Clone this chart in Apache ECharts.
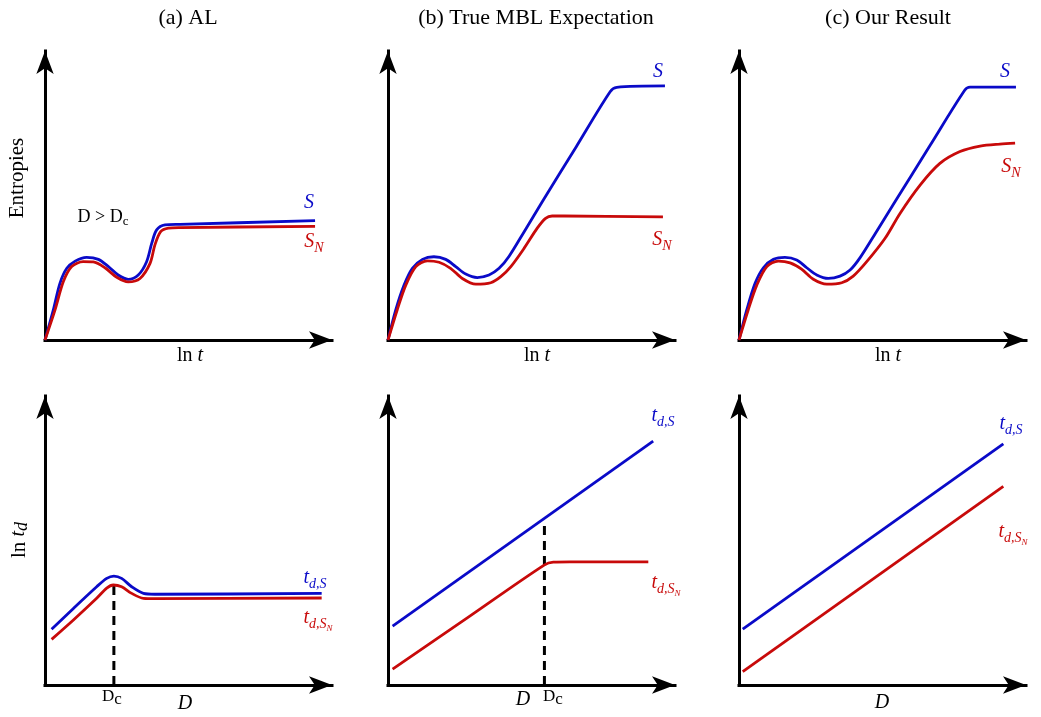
<!DOCTYPE html>
<html>
<head>
<meta charset="utf-8">
<title>AL vs MBL entropies</title>
<script src="https://cdn.jsdelivr.net/npm/echarts@6/dist/echarts.min.js"></script>
<style>
  html, body { margin: 0; padding: 0; background: #fff; }
  #chart { width: 1041px; height: 717px; }
</style>
</head>
<body>
<div id="chart"></div>
<script>
// schematic units: every panel runs 0..100 on both axes
const panelTitles = ['(a) AL', '(b) True MBL Expectation', '(c) Our Result'];

// top row: entropies vs ln t
const alS = [[0, 0], [2.9, 10.4], [5.2, 19.6], [7.6, 24.8], [10.5, 27.3], [14.5, 28.6], [18.6, 27.9], [22.1, 25.4], [25.5, 22.5], [29.0, 21.0], [32.5, 22.5], [35.4, 27.1], [37.2, 33.5], [38.9, 38.1], [41.8, 39.8], [47.0, 40.0], [94.1, 41.3]];
const alSN = [[0, 0], [3.5, 10.4], [6.4, 20.2], [9.3, 25.4], [13.3, 27.1], [16.8, 27.0], [20.9, 25.0], [25.0, 21.7], [29.0, 20.1], [33.1, 21.3], [36.6, 26.5], [38.3, 32.9], [40.3, 37.5], [43.0, 38.7], [47.0, 38.9], [94.1, 39.3]];

const mblS = [[0, 0], [2.7, 10.4], [5.6, 19.0], [8.5, 24.8], [12.0, 27.9], [16.0, 28.8], [20.1, 27.9], [23.6, 25.4], [27.1, 22.8], [31.1, 21.6], [35.2, 22.5], [38.7, 24.8], [42.2, 29.0], [47.4, 37.4], [53.8, 47.9], [65.6, 66.9], [77.4, 85.9], [79.7, 87.4], [96.5, 87.9]];
const mblSN = [[0, 0], [3.2, 10.4], [6.2, 19.0], [9.7, 25.4], [13.7, 27.4], [17.8, 26.9], [21.8, 24.8], [25.9, 21.3], [30.6, 19.3], [35.8, 19.8], [39.3, 21.9], [42.8, 25.4], [47.4, 31.7], [52.0, 38.7], [54.9, 42.1], [57.2, 42.9], [61.3, 42.9], [95.8, 42.6]];

const ourS = [[0, 0], [2.7, 10.4], [5.6, 19.6], [8.5, 25.0], [12.0, 27.9], [16.0, 28.6], [20.1, 27.7], [23.6, 25.0], [27.1, 22.5], [31.1, 21.3], [35.2, 22.1], [38.7, 24.2], [42.2, 28.5], [47.4, 36.7], [54.4, 47.9], [66.5, 67.2], [78.7, 86.5], [80.5, 87.5], [96.5, 87.5]];
const ourSN = [[0, 0], [3.2, 10.4], [6.2, 19.0], [9.7, 25.4], [13.7, 27.3], [17.8, 26.7], [21.8, 24.5], [25.9, 21.0], [30.6, 19.3], [35.8, 19.8], [39.8, 22.1], [44.5, 27.1], [50.9, 35.2], [56.1, 43.8], [63.1, 53.6], [70.0, 61.1], [77.0, 65.2], [84.0, 67.1], [90.9, 67.8], [96.2, 68.1]];

// bottom row: ln t_d vs D
const alTdS = [[2.3, 19.3], [9.9, 26.5], [18.0, 34.0], [21.5, 36.9], [24.0, 37.7], [26.7, 36.9], [30.2, 34.0], [34.3, 31.7], [38.3, 31.4], [96.4, 31.7]];
const alTdSN = [[2.3, 15.8], [9.9, 22.5], [18.0, 30.0], [21.5, 33.5], [23.8, 34.6], [26.7, 34.0], [30.2, 31.7], [34.3, 30.0], [38.3, 29.9], [96.4, 30.1]];
const alDc = [[24.0, 0], [24.0, 34.6]];

const mblTdS = [[1.6, 20.4], [92.4, 84.4]];
const mblTdSN = [[1.6, 5.5], [28.0, 23.5], [54.4, 41.5], [57.6, 42.5], [63.4, 42.6], [90.7, 42.6]];
const mblDc = [[54.5, 0], [54.5, 55.0]];

const ourTdS = [[1.3, 19.3], [92.1, 83.4]];
const ourTdSN = [[1.3, 4.6], [92.1, 68.7]];

const BLUE = '#0a0ac8';
const RED = '#c80a0a';
const SERIF = '"Liberation Serif", "DejaVu Serif", serif';

const gridBoxes = [
  { left: 45, top: 51 }, { left: 388, top: 51 }, { left: 739, top: 51 },
  { left: 45, top: 396 }, { left: 388, top: 396 }, { left: 739, top: 396 }
];

const axisBase = {
  type: 'value',
  min: 0,
  max: 100,
  axisLine: {
    show: true,
    onZero: false,
    symbol: ['none', 'arrow'],
    symbolSize: [13, 23],
    lineStyle: { color: '#000', width: 3, cap: 'square' }
  },
  axisTick: { show: false },
  axisLabel: { show: false },
  splitLine: { show: false }
};

const line = (idx, data, color, smooth, dashed) => ({
  type: 'line',
  xAxisIndex: idx,
  yAxisIndex: idx,
  data: data,
  showSymbol: false,
  smooth: smooth,
  silent: true,
  lineStyle: dashed
    ? { color: '#000', width: 3, type: [9, 6] }
    : { color: color, width: 2.8 }
});

const rich = {
  t: { fontFamily: SERIF, fontSize: 22 },
  r: { fontFamily: SERIF, fontSize: 20 },
  e: { fontFamily: SERIF, fontSize: 21 },
  i: { fontFamily: SERIF, fontSize: 20, fontStyle: 'italic' },
  sub: { fontFamily: SERIF, fontSize: 14, fontStyle: 'italic', padding: [12, 0, 0, 0] },
  subsub: { fontFamily: SERIF, fontSize: 9, fontStyle: 'italic', padding: [22, 0, 0, 0] },
  dsub: { fontFamily: SERIF, fontSize: 18, fontStyle: 'italic', padding: [6, 0, 0, 0] },
  rm: { fontFamily: SERIF, fontSize: 18 },
  rmSub: { fontFamily: SERIF, fontSize: 13, padding: [10, 0, 0, 0] },
  dc: { fontFamily: SERIF, fontSize: 17 },
  dcC: { fontFamily: SERIF, fontSize: 17, padding: [5, 0, 0, 0] }
};

const label = (x, y, text, fill, rotation) => ({
  type: 'text',
  x: x,
  y: y,
  rotation: rotation || 0,
  silent: true,
  style: {
    text: text,
    rich: rich,
    fill: fill || '#000',
    align: 'center',
    verticalAlign: 'middle',
    font: '20px ' + SERIF
  }
});

const chart = echarts.init(document.getElementById('chart'), null, { renderer: 'canvas' });

chart.setOption({
  animation: false,
  backgroundColor: '#fff',
  grid: gridBoxes.map(g => ({ left: g.left, top: g.top, width: 287, height: 289 })),
  xAxis: gridBoxes.map((g, i) => Object.assign({ gridIndex: i }, axisBase)),
  yAxis: gridBoxes.map((g, i) => Object.assign({ gridIndex: i }, axisBase)),
  series: [
    line(0, alS, BLUE, 0.3),
    line(0, alSN, RED, 0.3),
    line(1, mblS, BLUE, 0.3),
    line(1, mblSN, RED, 0.3),
    line(2, ourS, BLUE, 0.3),
    line(2, ourSN, RED, 0.3),
    line(3, alDc, '#000', false, true),
    line(3, alTdS, BLUE, 0.3),
    line(3, alTdSN, RED, 0.3),
    line(4, mblDc, '#000', false, true),
    line(4, mblTdS, BLUE, false),
    line(4, mblTdSN, RED, 0.3),
    line(5, ourTdS, BLUE, false),
    line(5, ourTdSN, RED, false)
  ],
  graphic: [
    label(188, 18, '{t|' + panelTitles[0] + '}'),
    label(536, 18, '{t|' + panelTitles[1] + '}'),
    label(888, 18, '{t|' + panelTitles[2] + '}'),
    label(17, 178, '{e|Entropies}', '#000', Math.PI / 2),
    label(19, 540, '{e|ln }{i|t}{dsub|d}', '#000', Math.PI / 2),
    label(190, 356, '{r|ln }{i|t}'),
    label(537, 356, '{r|ln }{i|t}'),
    label(888, 356, '{r|ln }{i|t}'),
    label(103, 217, '{rm|D > D}{rmSub|c}'),
    label(309, 203, '{i|S}', BLUE),
    label(314, 242, '{i|S}{sub|N}', RED),
    label(658, 72, '{i|S}', BLUE),
    label(662, 240, '{i|S}{sub|N}', RED),
    label(1005, 72, '{i|S}', BLUE),
    label(1011, 167, '{i|S}{sub|N}', RED),
    label(185, 704, '{i|D}'),
    label(523, 700, '{i|D}'),
    label(882, 703, '{i|D}'),
    label(112, 697, '{dc|D}{dcC|c}'),
    label(553, 697, '{dc|D}{dcC|c}'),
    label(315, 578, '{i|t}{sub|d,S}', BLUE),
    label(318, 618, '{i|t}{sub|d,S}{subsub|N}', RED),
    label(663, 416, '{i|t}{sub|d,S}', BLUE),
    label(666, 583, '{i|t}{sub|d,S}{subsub|N}', RED),
    label(1011, 424, '{i|t}{sub|d,S}', BLUE),
    label(1013, 532, '{i|t}{sub|d,S}{subsub|N}', RED)
  ]
});
</script>
</body>
</html>
